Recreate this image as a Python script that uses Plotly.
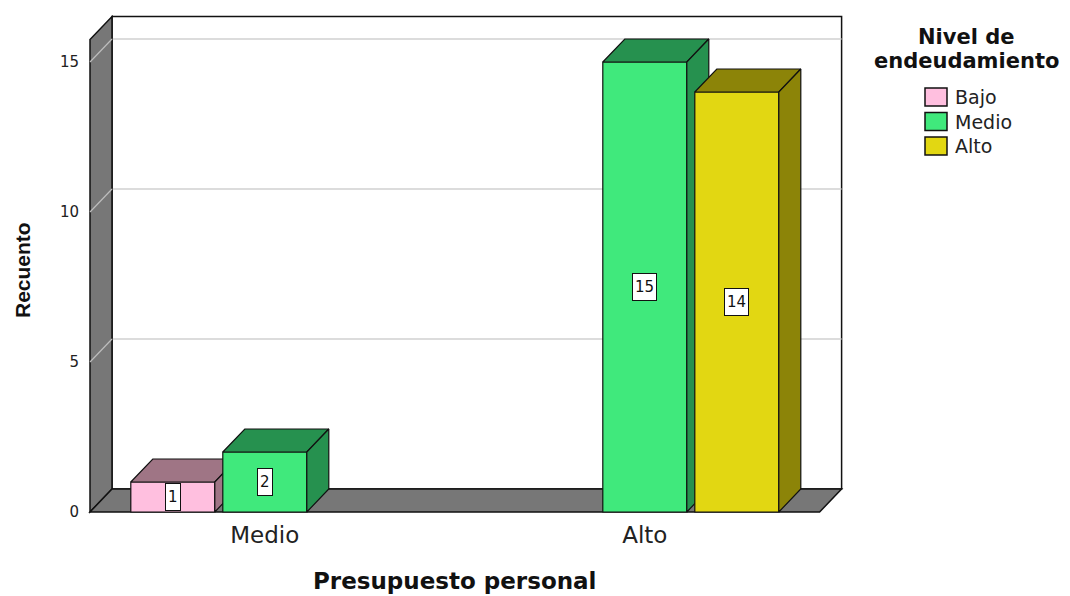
import plotly.graph_objects as go

# ---- data -------------------------------------------------------------
categories = ["Medio", "Alto"]            # Presupuesto personal
levels = ["Bajo", "Medio", "Alto"]        # Nivel de endeudamiento
counts_bajo = [1, 0]
counts_medio = [2, 15]
counts_alto = [0, 14]
y_tick_values = [0, 5, 10, 15]

series_counts = [counts_bajo, counts_medio, counts_alto]

# ---- styling ----------------------------------------------------------
front_colors = ["#FFBFDF", "#40E97C", "#E2D712"]
shade_colors = ["#9F7585", "#26914F", "#8C8408"]
WALL_COLOR = "#777777"
GRID_COLOR = "#D0D0D0"
EDGE = "#111111"
TEXT = "#222222"
FONT = "DejaVu Sans"

# ---- geometry (pixels) -------------------------------------------------
WIDTH, HEIGHT = 1070, 596
ML, MT, PW, PH = 86, 12, 760, 504
FRONT_X0_PX, FRONT_Y0_PX = 90, 512      # front-left corner of the floor
PX_PER_CAT, PX_PER_COUNT = 380, 30
DEPTH_PX_X, DEPTH_PX_Y = 22, 23

FRONT_LEFT, FRONT_RIGHT = -0.46, 1.46   # front plane, category units
WALL_TOP = 15.75                        # front plane, count units
BAR_W = 84 / PX_PER_CAT
BAR_STEP = 92 / PX_PER_CAT

x_lo = FRONT_LEFT - (FRONT_X0_PX - ML) / PX_PER_CAT
x_hi = x_lo + PW / PX_PER_CAT
y_lo = -(MT + PH - FRONT_Y0_PX) / PX_PER_COUNT
y_hi = y_lo + PH / PX_PER_COUNT
DX = DEPTH_PX_X / PX_PER_CAT
DY = DEPTH_PX_Y / PX_PER_COUNT

# legend block placement (pixels)
LEGEND_CENTER_X = 966
LEGEND_TITLE_Y = [37, 61]
LEGEND_SWATCH_X = (925, 947)
LEGEND_TEXT_X = 953
LEGEND_ROW_Y0, LEGEND_ROW_STEP = 97, 24.5
SWATCH_H = 18


def paper_x(px):
    return (px - ML) / PW


def paper_y(py):
    return (MT + PH - py) / PH


def poly_path(pts):
    return "M " + " L ".join(f"{x},{y}" for x, y in pts) + " Z"


fig = go.Figure()

# ---- walls, floor and gridlines -----------------------------------------
shapes = []
# back wall
shapes.append(dict(type="rect", xref="x", yref="y", layer="below",
                   x0=FRONT_LEFT + DX, x1=FRONT_RIGHT + DX,
                   y0=DY, y1=WALL_TOP + DY,
                   fillcolor="white", line=dict(color=EDGE, width=1.5)))
for v in y_tick_values[1:]:
    shapes.append(dict(type="line", xref="x", yref="y", layer="below",
                       x0=FRONT_LEFT + DX, x1=FRONT_RIGHT + DX,
                       y0=v + DY, y1=v + DY,
                       line=dict(color=GRID_COLOR, width=1.5)))
# left wall
shapes.append(dict(type="path", xref="x", yref="y", layer="below",
                   path=poly_path([(FRONT_LEFT, 0), (FRONT_LEFT, WALL_TOP),
                                   (FRONT_LEFT + DX, WALL_TOP + DY),
                                   (FRONT_LEFT + DX, DY)]),
                   fillcolor=WALL_COLOR, line=dict(color=EDGE, width=1.5)))
for v in y_tick_values[1:]:
    shapes.append(dict(type="line", xref="x", yref="y", layer="below",
                       x0=FRONT_LEFT, x1=FRONT_LEFT + DX,
                       y0=v, y1=v + DY,
                       line=dict(color="#BDBDBD", width=1.2)))
# floor
shapes.append(dict(type="path", xref="x", yref="y", layer="below",
                   path=poly_path([(FRONT_LEFT, 0), (FRONT_RIGHT, 0),
                                   (FRONT_RIGHT + DX, DY),
                                   (FRONT_LEFT + DX, DY)]),
                   fillcolor=WALL_COLOR, line=dict(color=EDGE, width=1.5)))

# ---- 3D bars: one overlaid subplot per level so later bars cover earlier ones
annotations = []
for k, (level, counts) in enumerate(zip(levels, series_counts)):
    xa = "x" if k == 0 else f"x{k + 1}"
    ya = "y" if k == 0 else f"y{k + 1}"
    centers = [i + (k - 1) * BAR_STEP for i in range(len(categories))]
    xs = [c for c, v in zip(centers, counts) if v > 0]
    vs = [v for v in counts if v > 0]

    fig.add_trace(go.Bar(
        x=xs, y=vs, width=BAR_W, xaxis=xa, yaxis=ya, name=level,
        marker=dict(color=front_colors[k], line=dict(color=EDGE, width=1.2)),
        showlegend=False, hovertemplate=f"{level}: %{{y}}<extra></extra>"))

    for c, v in zip(xs, vs):
        xl, xr = c - BAR_W / 2, c + BAR_W / 2
        top = [(xl, v), (xr, v), (xr + DX, v + DY), (xl + DX, v + DY), (xl, v)]
        side = [(xr, 0), (xr + DX, DY), (xr + DX, v + DY), (xr, v), (xr, 0)]
        for face in (top, side):
            fig.add_trace(go.Scatter(
                x=[p[0] for p in face], y=[p[1] for p in face],
                xaxis=xa, yaxis=ya, mode="lines", fill="toself",
                fillcolor=shade_colors[k], line=dict(color=EDGE, width=1.2),
                hoverinfo="skip", showlegend=False))
        annotations.append(dict(
            x=c, y=v / 2, xref="x", yref="y", text=str(v), showarrow=False,
            bgcolor="white", bordercolor=EDGE, borderwidth=1, borderpad=2,
            height=22,
            font=dict(family=FONT, size=15, color="#111111")))

# ---- legend block ----------------------------------------------------------
for line, py in zip(["Nivel de", "endeudamiento"], LEGEND_TITLE_Y):
    annotations.append(dict(
        text=line, xref="paper", yref="paper",
        x=paper_x(LEGEND_CENTER_X), y=paper_y(py),
        xanchor="center", yanchor="middle", showarrow=False,
        font=dict(family=FONT, size=21, color="#111111", weight="bold")))
for k, level in enumerate(levels):
    py = LEGEND_ROW_Y0 + k * LEGEND_ROW_STEP
    shapes.append(dict(type="rect", xref="paper", yref="paper",
                       x0=paper_x(LEGEND_SWATCH_X[0]),
                       x1=paper_x(LEGEND_SWATCH_X[1]),
                       y0=paper_y(py + SWATCH_H / 2),
                       y1=paper_y(py - SWATCH_H / 2),
                       fillcolor=front_colors[k],
                       line=dict(color=EDGE, width=1.5)))
    annotations.append(dict(
        text=level, xref="paper", yref="paper",
        x=paper_x(LEGEND_TEXT_X), y=paper_y(py),
        xanchor="left", yanchor="middle", showarrow=False,
        font=dict(family=FONT, size=19, color=TEXT)))

# ---- axis titles -----------------------------------------------------------
annotations.append(dict(
    text="Presupuesto personal", xref="x", yref="paper",
    x=(FRONT_LEFT + FRONT_RIGHT) / 2, y=paper_y(581),
    xanchor="center", yanchor="middle", showarrow=False,
    font=dict(family=FONT, size=23, color="#111111", weight="bold")))
annotations.append(dict(
    text="Recuento", xref="paper", yref="paper",
    x=paper_x(22), y=paper_y(270), textangle=-90,
    xanchor="center", yanchor="middle", showarrow=False,
    font=dict(family="Liberation Sans", size=21, color="#111111", weight="bold")))

axis_common = dict(range=[x_lo, x_hi], fixedrange=True)
yaxis_common = dict(range=[y_lo, y_hi], fixedrange=True)

fig.update_layout(
    width=WIDTH, height=HEIGHT,
    margin=dict(l=ML, r=WIDTH - ML - PW, t=MT, b=HEIGHT - MT - PH,
                autoexpand=False),
    paper_bgcolor="white", plot_bgcolor="rgba(0,0,0,0)",
    barmode="overlay", showlegend=False,
    shapes=shapes, annotations=annotations,
    xaxis=dict(**axis_common, tickvals=list(range(len(categories))),
               ticktext=categories, showgrid=False, zeroline=False,
               showline=False, ticks="", ticklabelstandoff=3,
               tickfont=dict(family=FONT, size=23, color=TEXT)),
    yaxis=dict(**yaxis_common, tickvals=y_tick_values, showgrid=False,
               zeroline=False, showline=False, ticks="",
               ticklabelstandoff=6,
               tickfont=dict(family=FONT, size=15, color=TEXT)),
    xaxis2=dict(**axis_common, overlaying="x", visible=False),
    yaxis2=dict(**yaxis_common, overlaying="y", visible=False),
    xaxis3=dict(**axis_common, overlaying="x", visible=False),
    yaxis3=dict(**yaxis_common, overlaying="y", visible=False),
    hovermode="closest",
)

fig.write_html("out.html", config={"displayModeBar": False})
